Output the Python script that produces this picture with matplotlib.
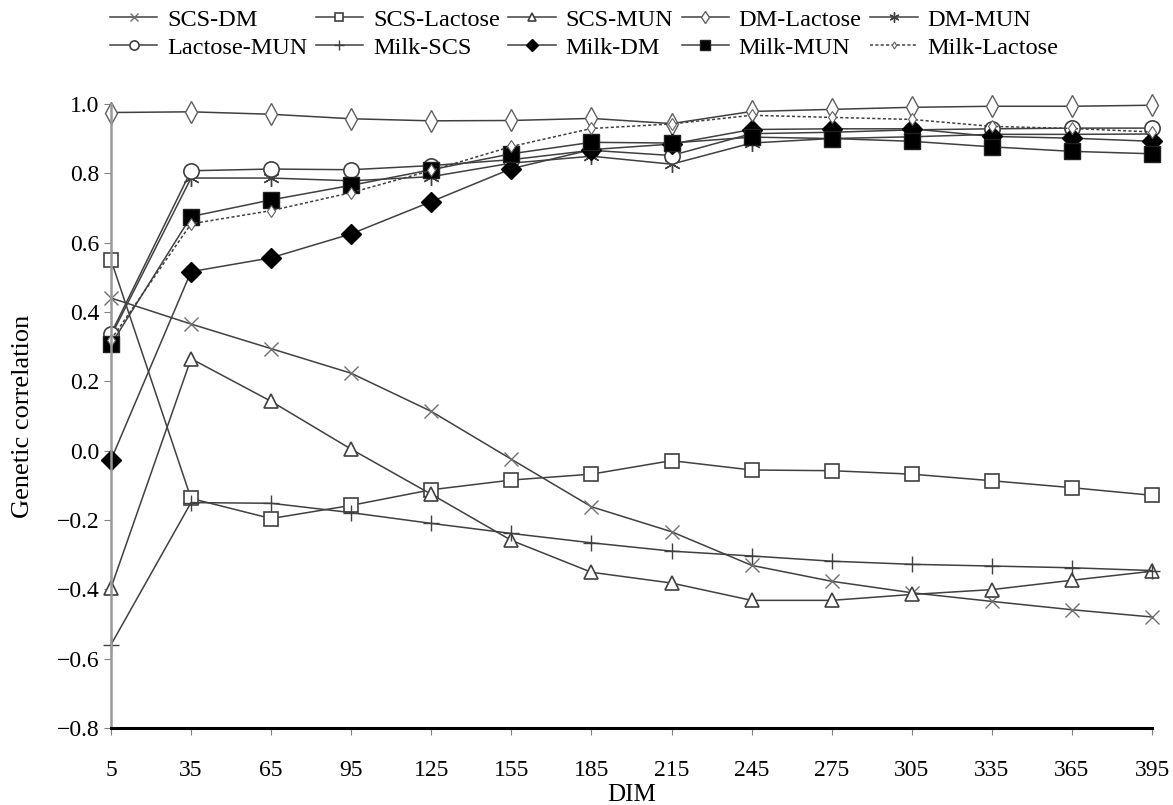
import numpy as np
import matplotlib
matplotlib.use("Agg")
import matplotlib.pyplot as plt

plt.rcParams['font.family'] = ['Liberation Serif', 'DejaVu Serif']

# days in milk
dim = [5, 35, 65, 95, 125, 155, 185, 215, 245, 275, 305, 335, 365, 395]

# genetic correlations
scs_dm = [0.44, 0.365, 0.294, 0.223, 0.113, -0.025, -0.162, -0.234, -0.331, -0.377, -0.41, -0.435, -0.459, -0.48]
scs_lactose = [0.55, -0.138, -0.196, -0.158, -0.113, -0.085, -0.068, -0.029, -0.056, -0.058, -0.068, -0.087, -0.107, -0.129]
scs_mun = [-0.396, 0.265, 0.142, 0.004, -0.126, -0.259, -0.351, -0.382, -0.432, -0.432, -0.415, -0.401, -0.374, -0.348]
dm_lactose = [0.975, 0.977, 0.97, 0.957, 0.951, 0.952, 0.958, 0.943, 0.978, 0.984, 0.99, 0.993, 0.993, 0.996]
dm_mun = [0.33, 0.786, 0.786, 0.778, 0.79, 0.829, 0.849, 0.826, 0.887, 0.9, 0.905, 0.912, 0.912, 0.913]
lactose_mun = [0.337, 0.807, 0.812, 0.81, 0.822, 0.839, 0.866, 0.851, 0.914, 0.918, 0.925, 0.928, 0.93, 0.93]
milk_scs = [-0.56, -0.15, -0.152, -0.179, -0.21, -0.239, -0.266, -0.29, -0.304, -0.319, -0.328, -0.333, -0.338, -0.346]
milk_dm = [-0.027, 0.516, 0.556, 0.625, 0.718, 0.813, 0.868, 0.884, 0.926, 0.928, 0.928, 0.906, 0.901, 0.892]
milk_mun = [0.306, 0.675, 0.723, 0.765, 0.81, 0.856, 0.889, 0.887, 0.904, 0.90, 0.892, 0.876, 0.863, 0.856]
milk_lactose = [0.32, 0.654, 0.692, 0.744, 0.808, 0.877, 0.929, 0.942, 0.967, 0.961, 0.955, 0.935, 0.929, 0.919]

line_col = '#404040'

fig = plt.figure(figsize=(11.73, 8.05), dpi=100)
ax = fig.add_axes([0.0946, 0.0957, 0.8875, 0.7753])

asterisk = (6, 2, 0)
series = [
    ('SCS-DM', scs_dm, dict(marker='x', ms=10, mfc='none', mec='#707070', mew=1.0)),
    ('SCS-Lactose', scs_lactose, dict(marker='s', ms=10, mfc='white', mec=line_col, mew=1.2)),
    ('SCS-MUN', scs_mun, dict(marker='^', ms=10, mfc='white', mec=line_col, mew=1.2)),
    ('DM-Lactose', dm_lactose, dict(marker='d', ms=11, mfc='white', mec='#606060', mew=1.0)),
    ('DM-MUN', dm_mun, dict(marker=asterisk, ms=12, mfc='none', mec=line_col, mew=1.0)),
    ('Lactose-MUN', lactose_mun, dict(marker='o', ms=11, mfc='white', mec=line_col, mew=1.2)),
    ('Milk-SCS', milk_scs, dict(marker='+', ms=12, mfc='none', mec=line_col, mew=1.0)),
    ('Milk-DM', milk_dm, dict(marker='D', ms=10, mfc='black', mec='black')),
    ('Milk-MUN', milk_mun, dict(marker='s', ms=11, mfc='black', mec='#202020')),
    ('Milk-Lactose', milk_lactose, dict(marker='d', ms=6, mfc='white', mec='#606060', mew=0.8, ls=(0, (2, 1.5)))),
]

handles = {}
for name, vals, style in series:
    style = dict(style)
    ls = style.pop('ls', '-')
    ln, = ax.plot(dim, vals, color=line_col, lw=1.1, ls=ls, label=name, clip_on=False, **style)
    handles[name] = ln

ax.set_xlim(5, 395)
ax.set_ylim(-0.8, 1.0)
ax.set_xticks(dim)
ax.set_yticks(np.arange(-0.8, 1.01, 0.2))
ax.yaxis.set_major_formatter(matplotlib.ticker.FuncFormatter(
    lambda v, p: ('%.1f' % (0.0 if abs(v) < 1e-9 else v)).replace('-', '\u2212')))
ax.tick_params(axis='both', labelsize=17, direction='out', length=5, color='#808080')
ax.tick_params(axis='x', pad=18)

for s in ['top', 'right']:
    ax.spines[s].set_visible(False)
ax.spines['left'].set_color('#999999')
ax.spines['left'].set_linewidth(1.8)
ax.spines['bottom'].set_color('black')
ax.spines['bottom'].set_linewidth(2.2)

ax.set_xlabel('DIM', fontsize=18, labelpad=2)
ax.set_ylabel('Genetic correlation', fontsize=19, labelpad=16)

# legend laid out row by row (matplotlib fills columns first)
row1 = ['SCS-DM', 'SCS-Lactose', 'SCS-MUN', 'DM-Lactose', 'DM-MUN']
row2 = ['Lactose-MUN', 'Milk-SCS', 'Milk-DM', 'Milk-MUN', 'Milk-Lactose']
order = [n for pair in zip(row1, row2) for n in pair]
ax.legend([handles[n] for n in order], order, loc='upper left',
          bbox_to_anchor=(-0.001, 1.0 + 95 / 624), ncol=5, frameon=False,
          fontsize=17.5, handlelength=1.95, columnspacing=0.35, handletextpad=0.4,
          labelspacing=0.25, borderaxespad=0, borderpad=0, markerscale=0.6)

fig.savefig('out.png', dpi=100)
